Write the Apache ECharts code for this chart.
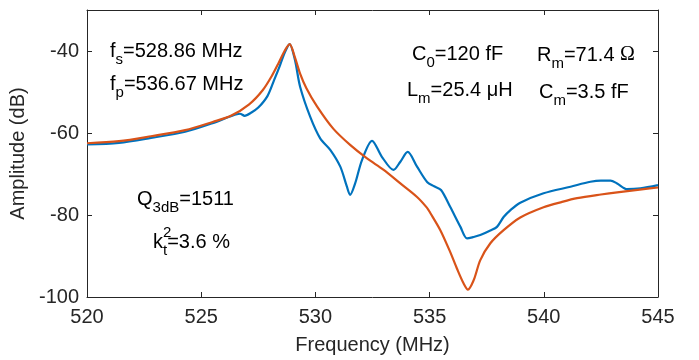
<!DOCTYPE html>
<html><head><meta charset="utf-8">
<script src="https://cdn.jsdelivr.net/npm/echarts@6/dist/echarts.min.js"></script>
<style>html,body{margin:0;padding:0;background:#fff}#c{width:699px;height:360px}</style>
</head><body><div id="c"></div>
<script>
// Measured response (blue)
const measFreq = [520.0,521.4,522.8,524.3,525.5,526.3,526.7,526.9,527.2,527.5,527.9,528.2,528.45,528.65,528.87,529.1,529.33,529.77,530.21,530.65,531.09,531.38,531.52,531.74,532.04,532.48,532.91,533.42,533.72,534.04,534.45,534.9,535.2,535.5,535.9,536.35,536.64,536.9,537.22,537.66,537.95,538.24,538.54,538.97,539.99,541.17,542.04,542.5,542.92,543.21,543.65,544.23,545.0];
const measAmp  = [-62.8,-62.4,-61.2,-59.7,-57.6,-55.9,-55.3,-55.8,-55.0,-53.8,-51.0,-47.0,-43.5,-40.5,-38.3,-42.1,-48.7,-56.0,-61.3,-64.1,-68.2,-73.1,-75.1,-72.3,-66.6,-61.9,-65.8,-69.0,-67.0,-64.6,-68.2,-72.0,-73.0,-73.9,-78.0,-82.9,-85.7,-85.4,-84.9,-83.8,-82.9,-80.5,-78.8,-77.0,-74.7,-73.1,-71.9,-71.6,-71.6,-72.3,-73.7,-73.5,-72.7];
// Fitted model (orange)
const fitFreq = [520.0,521.4,522.8,524.3,525.5,526.3,527.1,527.7,528.1,528.4,528.65,528.87,529.1,529.33,529.6,530.07,530.79,531.52,532.26,532.99,533.72,534.45,534.88,535.03,535.47,535.9,536.2,536.49,536.68,536.93,537.22,537.66,538.24,538.97,539.99,540.8,541.46,542.5,543.3,544.2,545.0];
const fitAmp  = [-62.5,-62.0,-60.8,-59.3,-57.3,-55.8,-53.0,-49.5,-46.0,-42.8,-40.0,-38.3,-41.5,-45.5,-49.0,-53.5,-59.0,-62.9,-66.2,-69.0,-72.3,-75.6,-78.2,-79.5,-83.7,-89.0,-93.1,-96.7,-98.2,-95.9,-91.0,-86.9,-83.7,-80.6,-78.1,-76.8,-75.9,-75.0,-74.4,-73.8,-73.3];
const xTicks = [520,525,530,535,540,545];
const yTicks = [-100,-80,-60,-40];

const FONT = "'Liberation Sans', Arial, Helvetica, sans-serif";
const AX = '#262626';
const chart = echarts.init(document.getElementById('c'), null, {renderer:'canvas'});

const cv = document.createElement('canvas').getContext('2d');
function w(t, size, fam){ cv.font = size+'px '+(fam||FONT); return cv.measureText(t).width; }
function label(x0, y0, segs){
  const out = []; let x = x0;
  segs.forEach(sg => {
    const size = sg.s || 20;
    out.push({type:'text', z:100, style:{text:sg.t, x:x, y:y0+(sg.dy||0), font:size+'px '+(sg.fam||FONT), fill:'#000', align:'left', verticalAlign:'middle', textAlign:'left', textVerticalAlign:'middle'}});
    if (!sg.stack) x += w(sg.t, size, sg.fam);
  });
  return out;
}
const SUB = 9, SUP = -9, SS = 15;
let g = [];
g = g.concat(label(110, 51, [{t:'f'},{t:'s',s:SS,dy:SUB},{t:'=528.86 MHz'}]));
g = g.concat(label(110, 84, [{t:'f'},{t:'p',s:SS,dy:SUB},{t:'=536.67 MHz'}]));
g = g.concat(label(412, 54, [{t:'C'},{t:'0',s:SS,dy:SUB},{t:'=120 fF'}]));
g = g.concat(label(537, 55, [{t:'R'},{t:'m',s:SS,dy:SUB},{t:'=71.4 '},{t:'Ω',fam:"'Liberation Serif', serif"}]));
g = g.concat(label(407, 90, [{t:'L'},{t:'m',s:SS,dy:SUB},{t:'=25.4 μH'}]));
g = g.concat(label(539, 92, [{t:'C'},{t:'m',s:SS,dy:SUB},{t:'=3.5 fF'}]));
g = g.concat(label(137, 199, [{t:'Q'},{t:'3dB',s:SS,dy:SUB},{t:'=1511'}]));
g = g.concat(label(153, 242, [{t:'k'},{t:'2',s:SS,dy:SUP,stack:true},{t:'t',s:SS,dy:SUB},{t:'=3.6 %'}]));

const zip = (a,b) => a.map((v,i)=>[v,b[i]]);
const axBase = {
  axisLine:{show:true, onZero:false, lineStyle:{color:AX, width:1}},
  axisTick:{show:true, inside:true, length:5, lineStyle:{color:AX}},
  splitLine:{show:false}
};
chart.setOption({
  animation:false,
  backgroundColor:'#fff',
  grid:{left:87, right:41, top:10, bottom:63},
  xAxis:[
    Object.assign({type:'value', min:520, max:545, interval:5, position:'bottom',
      name:'Frequency (MHz)', nameLocation:'middle', nameGap:38,
      nameTextStyle:{fontFamily:FONT, fontSize:20, color:AX},
      axisLabel:{fontFamily:FONT, fontSize:20, color:AX, margin:10}}, axBase),
    Object.assign({type:'value', min:520, max:545, interval:5, position:'top', axisLabel:{show:false}}, axBase)
  ],
  yAxis:[
    Object.assign({type:'value', min:-100, max:-30, interval:20, position:'left',
      name:'Amplitude (dB)', nameLocation:'middle', nameGap:43,
      nameTextStyle:{fontFamily:FONT, fontSize:20, color:AX},
      axisLabel:{fontFamily:FONT, fontSize:20, color:AX, margin:8, showMaxLabel:false}}, axBase),
    Object.assign({type:'value', min:-100, max:-30, interval:20, position:'right', axisLabel:{show:false}}, axBase)
  ],
  series:[
    {type:'line', data:zip(measFreq, measAmp), showSymbol:false, smooth:0.3,
      lineStyle:{color:'#0072BD', width:2.2}, itemStyle:{color:'#0072BD'}},
    {type:'line', data:zip(fitFreq, fitAmp), showSymbol:false, smooth:0.3,
      lineStyle:{color:'#D95319', width:2.2}, itemStyle:{color:'#D95319'}}
  ],
  graphic:g
});
</script></body></html>
